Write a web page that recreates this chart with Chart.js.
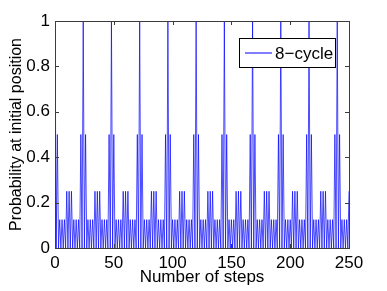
<!DOCTYPE html>
<html>
<head>
<meta charset="utf-8">
<script src="https://cdn.jsdelivr.net/npm/chart.js@4.4.1/dist/chart.umd.min.js"></script>
<style>
  html, body { margin: 0; padding: 0; background: #fff; }
  #wrap { width: 387px; height: 291px; }
</style>
</head>
<body>
<div id="wrap"><canvas id="grafico"></canvas></div>
<script>
// Probabilidade na posição inicial, passo a passo
const seriesLabel = '8\u2212cycle';
const probInicial = [
  1, 0, 0.5, 0, 0.125, 0, 0.125, 0, 0.125, 0, 0.25, 0, 0.25, 0, 0.25, 0, 0.125, 0, 0.125, 0, 0.125, 0, 0.5, 0,
  1, 0, 0.5, 0, 0.125, 0, 0.125, 0, 0.125, 0, 0.25, 0, 0.25, 0, 0.25, 0, 0.125, 0, 0.125, 0, 0.125, 0, 0.5, 0,
  1, 0, 0.5, 0, 0.125, 0, 0.125, 0, 0.125, 0, 0.25, 0, 0.25, 0, 0.25, 0, 0.125, 0, 0.125, 0, 0.125, 0, 0.5, 0,
  1, 0, 0.5, 0, 0.125, 0, 0.125, 0, 0.125, 0, 0.25, 0, 0.25, 0, 0.25, 0, 0.125, 0, 0.125, 0, 0.125, 0, 0.5, 0,
  1, 0, 0.5, 0, 0.125, 0, 0.125, 0, 0.125, 0, 0.25, 0, 0.25, 0, 0.25, 0, 0.125, 0, 0.125, 0, 0.125, 0, 0.5, 0,
  1, 0, 0.5, 0, 0.125, 0, 0.125, 0, 0.125, 0, 0.25, 0, 0.25, 0, 0.25, 0, 0.125, 0, 0.125, 0, 0.125, 0, 0.5, 0,
  1, 0, 0.5, 0, 0.125, 0, 0.125, 0, 0.125, 0, 0.25, 0, 0.25, 0, 0.25, 0, 0.125, 0, 0.125, 0, 0.125, 0, 0.5, 0,
  1, 0, 0.5, 0, 0.125, 0, 0.125, 0, 0.125, 0, 0.25, 0, 0.25, 0, 0.25, 0, 0.125, 0, 0.125, 0, 0.125, 0, 0.5, 0,
  1, 0, 0.5, 0, 0.125, 0, 0.125, 0, 0.125, 0, 0.25, 0, 0.25, 0, 0.25, 0, 0.125, 0, 0.125, 0, 0.125, 0, 0.5, 0,
  1, 0, 0.5, 0, 0.125, 0, 0.125, 0, 0.125, 0, 0.25, 0, 0.25, 0, 0.25, 0, 0.125, 0, 0.125, 0, 0.125, 0, 0.5, 0,
  1, 0, 0.5, 0, 0.125, 0, 0.125, 0, 0.125, 0, 0.25
];
const passos = probInicial.map((p, i) => i); // 0..250
const xTicks = [0, 50, 100, 150, 200, 250];
const yTicks = [0, 0.2, 0.4, 0.6, 0.8, 1];

const fonte = "'Liberation Sans', Arial, Helvetica, sans-serif";
const corEixo = '#3c3c3c';

// Caixa dos eixos + marcas para dentro (estilo MATLAB) + legenda com moldura
const estiloMatlab = {
    id: 'estiloMatlab',
    afterDatasetsDraw(chart) {
        const { ctx, chartArea: a, scales: { x, y } } = chart;
        const tam = 4;
        ctx.save();
        ctx.strokeStyle = corEixo;
        ctx.lineWidth = 1;
        ctx.beginPath();
        xTicks.forEach(v => {
            const px = Math.round(x.getPixelForValue(v)) + 0.5;
            ctx.moveTo(px, a.bottom); ctx.lineTo(px, a.bottom - tam);
            ctx.moveTo(px, a.top); ctx.lineTo(px, a.top + tam);
        });
        yTicks.forEach(v => {
            const py = Math.round(y.getPixelForValue(v)) + 0.5;
            ctx.moveTo(a.left, py); ctx.lineTo(a.left + tam, py);
            ctx.moveTo(a.right, py); ctx.lineTo(a.right - tam, py);
        });
        ctx.stroke();
        ctx.strokeRect(Math.round(a.left) + 0.5, Math.round(a.top) + 0.5,
                       Math.round(a.right - a.left), Math.round(a.bottom - a.top));

        // legenda
        const ds = chart.data.datasets[0];
        const bx = 239.5, by = 38.5, bw = 96, bh = 29;
        ctx.fillStyle = '#fff';
        ctx.fillRect(bx, by, bw, bh);
        ctx.strokeStyle = '#000';
        ctx.strokeRect(bx, by, bw, bh);
        ctx.strokeStyle = ds.borderColor;
        ctx.lineWidth = 1;
        ctx.beginPath();
        ctx.moveTo(245, by + bh / 2);
        ctx.lineTo(272, by + bh / 2);
        ctx.stroke();
        ctx.fillStyle = '#000';
        ctx.font = '17px ' + fonte;
        ctx.textBaseline = 'middle';
        ctx.fillText(ds.label, 275, by + bh / 2 + 1);
        ctx.restore();
    }
};

const ctx = document.getElementById('grafico').getContext('2d');
new Chart(ctx, {
    type: 'line',
    data: {
        datasets: [{
            label: seriesLabel,
            data: probInicial.map((p, i) => ({ x: passos[i], y: p })),
            borderColor: '#0000ff',
            borderWidth: 0.7,
            pointRadius: 0,
            tension: 0,
            fill: false
        }]
    },
    options: {
        responsive: true,
        maintainAspectRatio: false,
        animation: false,
        layout: { padding: { top: 21, right: 38, left: 0, bottom: 0 } },
        plugins: {
            legend: { display: false },
            tooltip: { enabled: false }
        },
        scales: {
            x: {
                type: 'linear',
                min: 0,
                max: 250,
                afterBuildTicks: s => { s.ticks = xTicks.map(v => ({ value: v })); },
                afterFit: s => { s.height = 43; },
                grid: { display: false, drawTicks: false },
                border: { display: false },
                ticks: { color: '#000', padding: 5, maxRotation: 0, font: { family: fonte, size: 17 } },
                title: {
                    display: true,
                    text: 'Number of steps',
                    color: '#000',
                    padding: { bottom: 3 },
                    font: { family: fonte, size: 17 }
                }
            },
            y: {
                min: 0,
                max: 1,
                afterBuildTicks: s => { s.ticks = yTicks.map(v => ({ value: v })); },
                afterFit: s => { s.width = 55; },
                grid: { display: false, drawTicks: false },
                border: { display: false },
                ticks: {
                    color: '#000',
                    padding: 5,
                    font: { family: fonte, size: 17 },
                    callback: v => String(+v.toFixed(1))
                },
                title: {
                    display: true,
                    text: 'Probability at initial position',
                    color: '#000',
                    padding: { top: 7 },
                    font: { family: fonte, size: 16 }
                }
            }
        }
    },
    plugins: [estiloMatlab]
});
</script>
</body>
</html>
